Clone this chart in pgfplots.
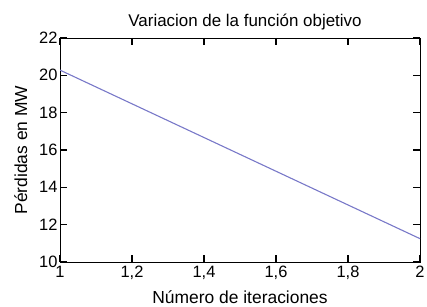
\documentclass[border=0pt]{standalone}
\usepackage{pgfplots}
\pgfplotsset{compat=1.18}
\usepackage{fontspec}
\setmainfont{Liberation Sans}
\definecolor{linec}{RGB}{120,120,200}
\begin{document}
\begin{tikzpicture}
\path[use as bounding box] (0,0) rectangle (427bp,307bp);
\begin{axis}[
  at={(60bp,45bp)}, anchor=south west,
  width=360bp, height=224bp, scale only axis,
  xmin=1, xmax=2, ymin=10, ymax=22,
  xtick={1,1.2,1.4,1.6,1.8,2},
  ytick={10,12,14,16,18,20,22},
  /pgf/number format/use comma,
  /pgf/number format/assume math mode=true,
  tick align=inside, tickwidth=7bp,
  xtick pos=both, ytick pos=both,
  every tick/.style={black, line width=1.1pt},
  axis line style={line width=1pt},
  font=\fontsize{16.5}{19}\selectfont,
  title={Variacion de la función objetivo},
  title style={font=\fontsize{17}{19}\selectfont, yshift=-2bp, xshift=5bp},
  xlabel={Número de iteraciones},
  ylabel={Pérdidas en MW},
  xlabel style={font=\fontsize{17.5}{19}\selectfont, yshift=-4bp},
  ylabel style={font=\fontsize{17.5}{19}\selectfont, yshift=5bp},
  xticklabel style={yshift=-1bp},
  yticklabel style={xshift=1bp},
]
\addplot[color=linec, line width=1.1pt] coordinates {(1,20.28) (2,11.25)};
\end{axis}
\end{tikzpicture}
\end{document}
